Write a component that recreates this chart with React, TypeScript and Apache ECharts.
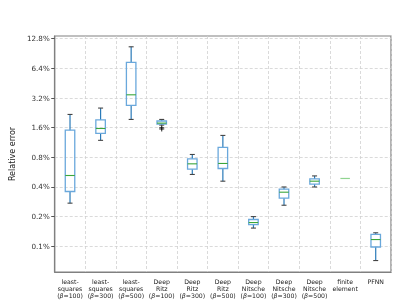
import React, { useEffect, useRef } from "react";
import * as echarts from "echarts";

const categories = [
  "least-\nsquares\n(β=100)",
  "least-\nsquares\n(β=300)",
  "least-\nsquares\n(β=500)",
  "Deep\nRitz\n(β=100)",
  "Deep\nRitz\n(β=300)",
  "Deep\nRitz\n(β=500)",
  "Deep\nNitsche\n(β=100)",
  "Deep\nNitsche\n(β=300)",
  "Deep\nNitsche\n(β=500)",
  "finite\nelement",
  "PFNN",
];
// relative error in percent
const whiskerLow = [0.274, 1.19, 1.94, 1.7, 0.536, 0.458, 0.153, 0.261, 0.4, 0.488, 0.0716];
const q1 = [0.36, 1.4, 2.69, 1.74, 0.606, 0.616, 0.166, 0.308, 0.427, 0.488, 0.0983];
const median = [0.523, 1.57, 3.45, 1.78, 0.687, 0.693, 0.174, 0.354, 0.458, 0.488, 0.117];
const q3 = [1.51, 1.92, 7.37, 1.87, 0.772, 1.008, 0.187, 0.38, 0.483, 0.488, 0.132];
const whiskerHigh = [2.18, 2.53, 10.6, 1.94, 0.855, 1.335, 0.2, 0.4, 0.518, 0.488, 0.137];
const outliers: [number, number][] = [
  [3, 1.6],
  [3, 1.55],
];
const yTicks = [0.1, 0.2, 0.4, 0.8, 1.6, 3.2, 6.4, 12.8];

const t = (p: number) => Math.log2(p / 0.1);

export default function App() {
  const ref = useRef<HTMLDivElement>(null);
  useEffect(() => {
    if (!ref.current) return;
    const chart = echarts.init(ref.current, null, { renderer: "svg" });
    const boxData = categories.map((_, i) => [
      i,
      t(whiskerLow[i]),
      t(q1[i]),
      t(median[i]),
      t(q3[i]),
      t(whiskerHigh[i]),
    ]);
    const tickVals = yTicks.map(t);
    chart.setOption({
      animation: false,
      grid: {
        left: 54,
        right: 16,
        top: 36,
        bottom: 33,
        show: true,
        borderColor: "#808080",
        borderWidth: 1.2,
      },
      xAxis: {
        type: "category",
        data: categories,
        boundaryGap: true,
        axisLine: { show: true, onZero: false, lineStyle: { color: "#808080", width: 1.2 } },
        axisTick: { show: false },
        splitLine: {
          show: true,
          interval: 0,
          lineStyle: { color: "#d0d0d0", type: [3, 2], width: 0.8 },
        },
        axisLabel: {
          interval: 0,
          margin: 6,
          fontSize: 6.2,
          lineHeight: 7,
          color: "#222",
          fontFamily: "DejaVu Sans",
          formatter: (v: string) => v.replace(/β/g, "{i|β}"),
          rich: {
            i: {
              fontStyle: "italic",
              fontSize: 6.2,
              lineHeight: 7,
              fontFamily: "DejaVu Sans",
              color: "#222",
            },
          },
        },
      },
      yAxis: {
        type: "value",
        min: -0.868,
        max: 7.092,
        name: "Relative error",
        nameLocation: "middle",
        nameGap: 34,
        nameRotate: 90,
        nameTextStyle: { fontSize: 8, color: "#222", fontFamily: "DejaVu Sans" },
        axisLine: { show: true, lineStyle: { color: "#808080", width: 1.2 } },
        axisTick: {
          show: true,
          length: 3.5,
          customValues: tickVals,
          lineStyle: { color: "#555" },
        },
        splitLine: {
          show: true,
          lineStyle: { color: "#d0d0d0", type: [3, 2], width: 0.8 },
        },
        axisLabel: {
          customValues: tickVals,
          margin: 5,
          fontSize: 7.2,
          color: "#333",
          fontFamily: "DejaVu Sans",
          formatter: (v: number) => (0.1 * Math.pow(2, Math.round(v))).toFixed(1) + "%",
        },
      },
      series: [
        {
          type: "custom",
          data: boxData,
          encode: { x: 0, y: [1, 2, 3, 4, 5] },
          renderItem: (params: any, api: any) => {
            const x = api.value(0);
            const lo = api.coord([x, api.value(1)]);
            const b1 = api.coord([x, api.value(2)]);
            const md = api.coord([x, api.value(3)]);
            const b3 = api.coord([x, api.value(4)]);
            const hi = api.coord([x, api.value(5)]);
            const bw = 9.5;
            const cw = 5;
            const cx = lo[0];
            const flat = Math.abs(hi[1] - lo[1]) < 0.5;
            if (flat) {
              return {
                type: "line",
                shape: { x1: cx - bw / 2, y1: md[1], x2: cx + bw / 2, y2: md[1] },
                style: { stroke: "#90d490", lineWidth: 1.2 },
              };
            }
            return {
              type: "group",
              children: [
                {
                  type: "line",
                  shape: { x1: cx, y1: hi[1], x2: cx, y2: b3[1] },
                  style: { stroke: "#2a7ab8", lineWidth: 1.2 },
                },
                {
                  type: "line",
                  shape: { x1: cx, y1: b1[1], x2: cx, y2: lo[1] },
                  style: { stroke: "#2a7ab8", lineWidth: 1.2 },
                },
                {
                  type: "line",
                  shape: { x1: cx - cw / 2, y1: hi[1], x2: cx + cw / 2, y2: hi[1] },
                  style: { stroke: "#444", lineWidth: 1.1 },
                },
                {
                  type: "line",
                  shape: { x1: cx - cw / 2, y1: lo[1], x2: cx + cw / 2, y2: lo[1] },
                  style: { stroke: "#444", lineWidth: 1.1 },
                },
                {
                  type: "rect",
                  shape: { x: cx - bw / 2, y: b3[1], width: bw, height: b1[1] - b3[1] },
                  style: { fill: "none", stroke: "#6aa8dc", lineWidth: 1.3 },
                },
                {
                  type: "line",
                  shape: { x1: cx - bw / 2, y1: md[1], x2: cx + bw / 2, y2: md[1] },
                  style: { stroke: "#3aa63a", lineWidth: 1.1 },
                },
              ],
            };
          },
          z: 3,
        },
        {
          type: "scatter",
          data: outliers.map(([i, v]) => [i, t(v)]),
          symbol: "path://M4,0h2v4h4v2h-4v4h-2v-4h-4v-2h4z",
          symbolSize: 5,
          itemStyle: { color: "#000" },
          z: 4,
        },
      ],
    });
    return () => chart.dispose();
  }, []);
  return (
    <div
      ref={ref}
      style={{ width: 407, height: 305, position: "fixed", left: 0, top: 0 }}
    />
  );
}
